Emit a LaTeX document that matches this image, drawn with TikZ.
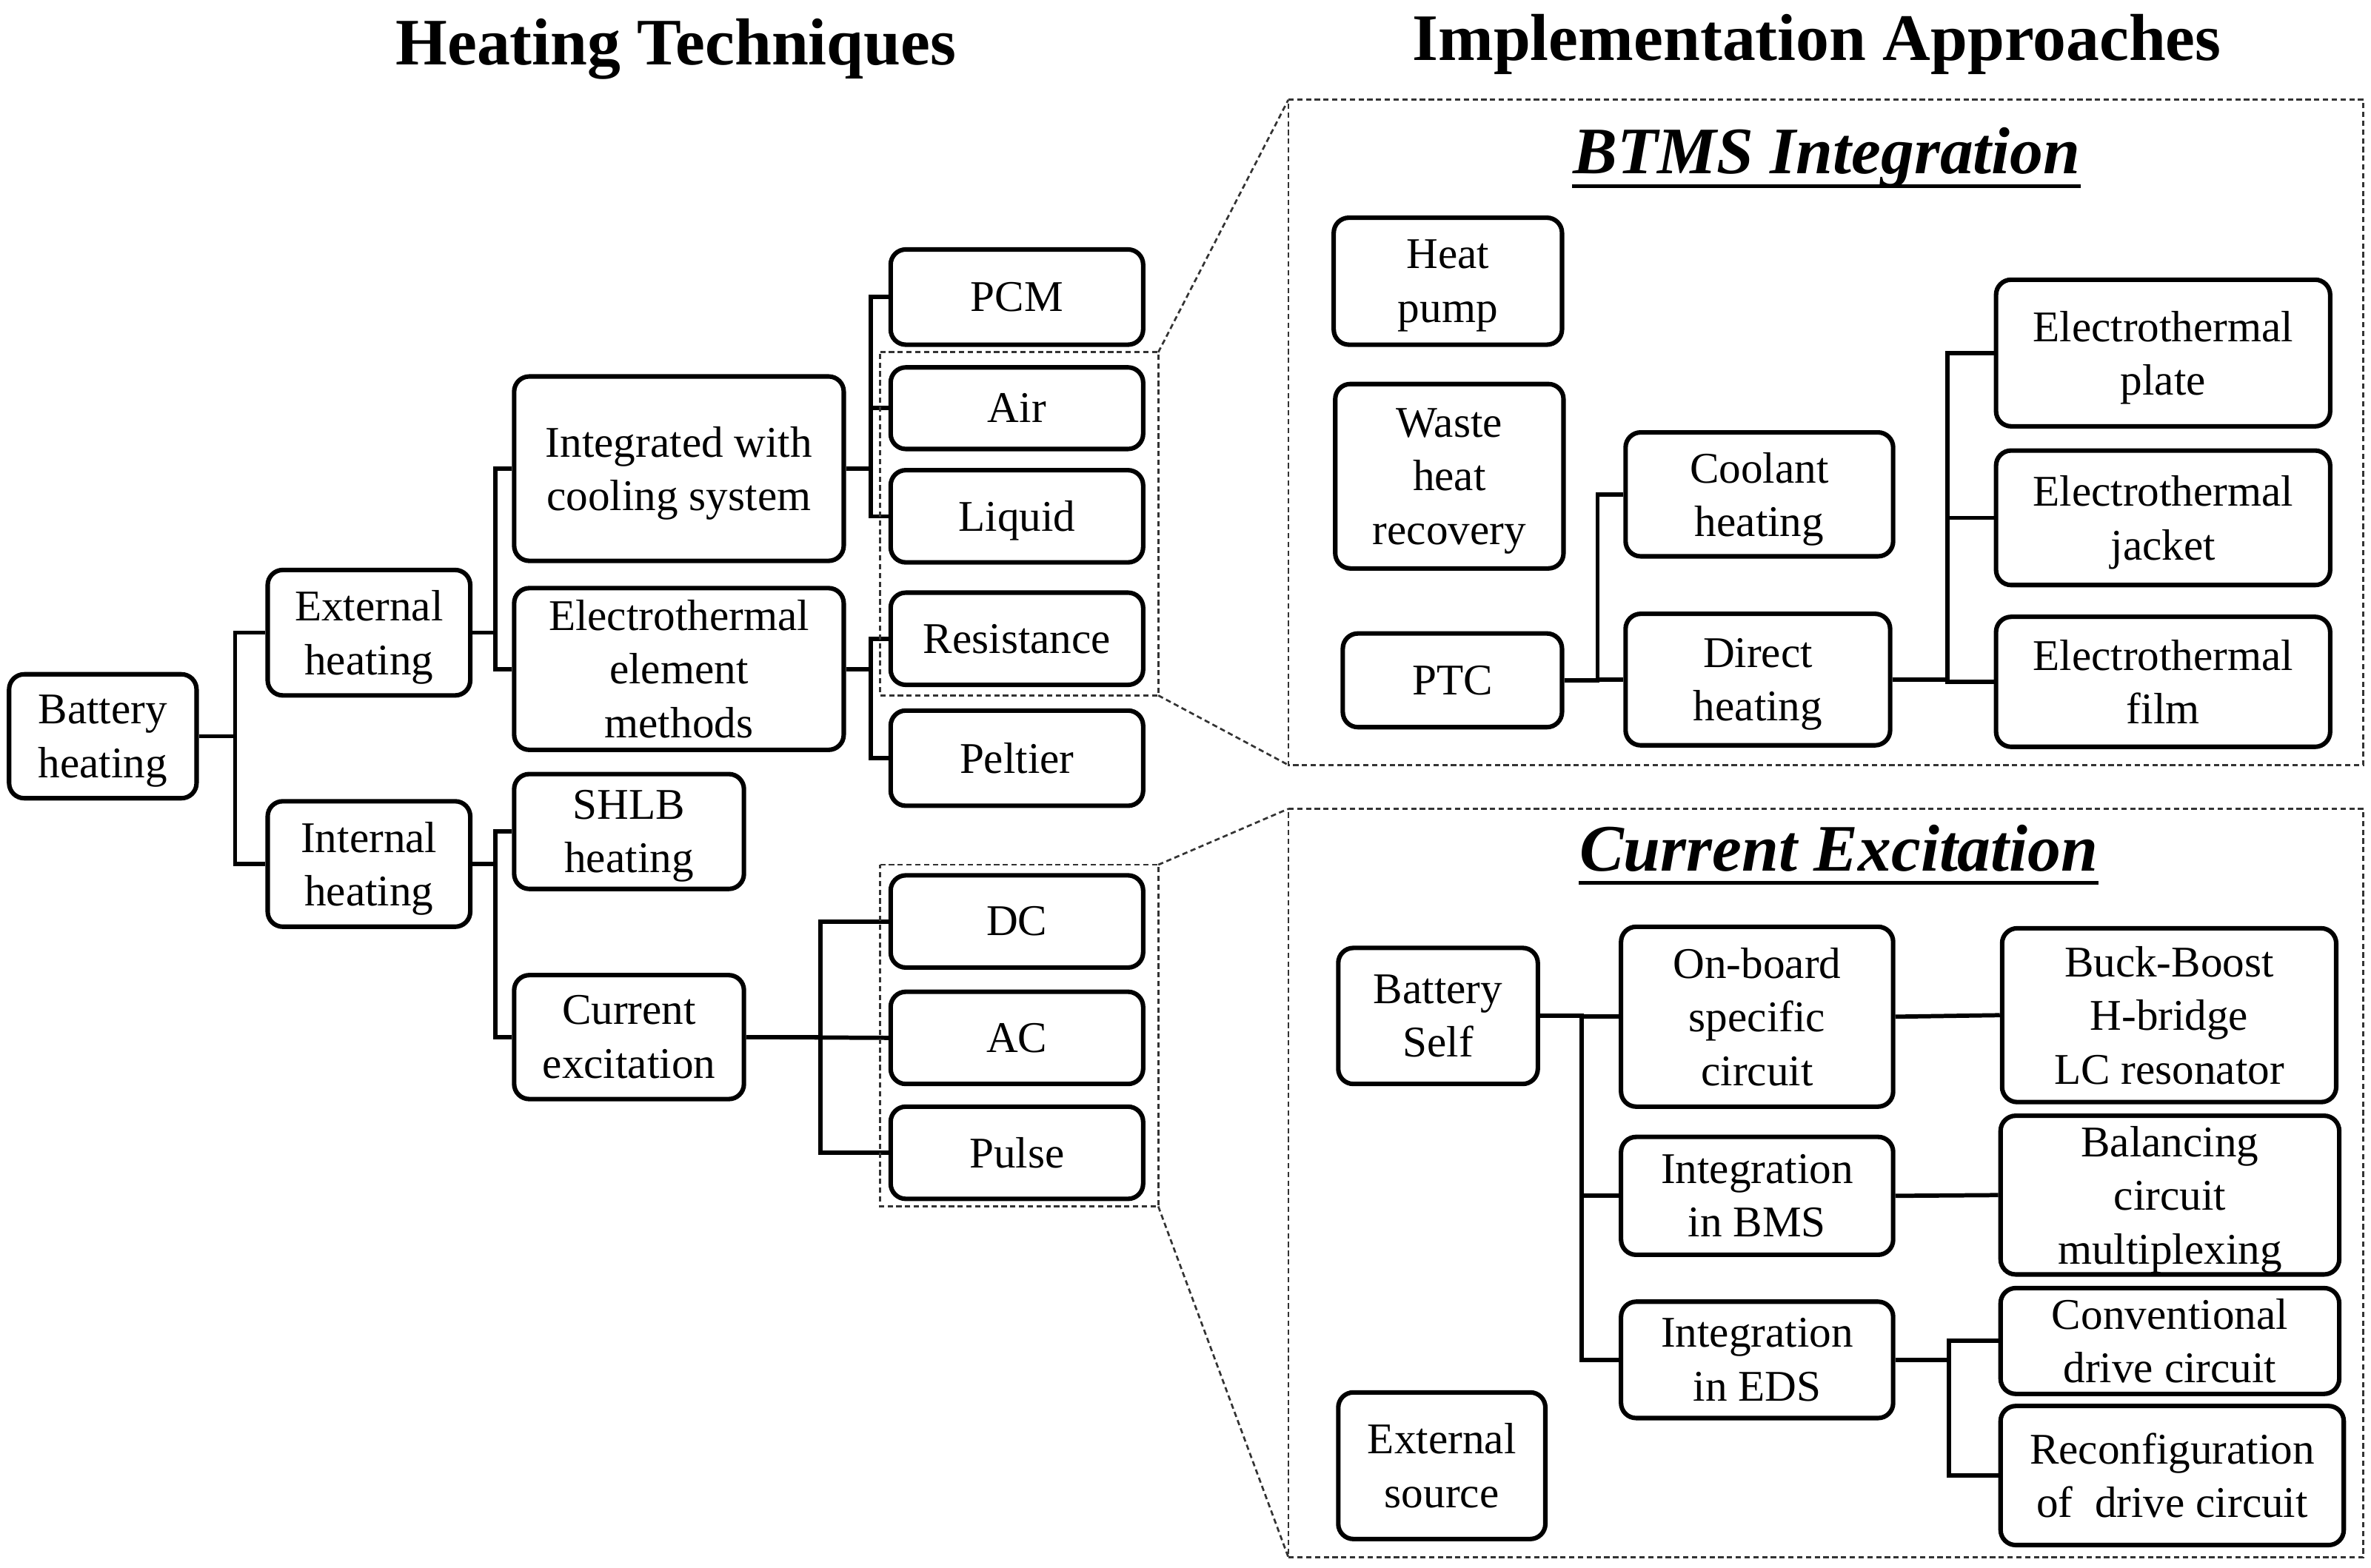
\documentclass[tikz,border=0pt]{standalone}
\usepackage{fontspec}
\setmainfont{Liberation Serif}
\newcommand\nd[1]{\raisebox{0pt}[\height][0pt]{#1}}
\definecolor{dashgray}{gray}{0.2}
\begin{document}
\begin{tikzpicture}[x=0.02cm,y=-0.02cm,
  box/.style={draw, line width=1.7pt, rounded corners=0.2cm, align=center, inner sep=0pt, font=\fontsize{16.5}{20.2}\selectfont},
  conn/.style={line width=1.6pt},
  dsh/.style={line width=0.75pt, draw=dashgray, dash pattern=on 2pt off 1.3pt},
  ttl/.style={font=\fontsize{25}{30}\selectfont\bfseries, inner sep=0pt, anchor=base},
  sttl/.style={font=\fontsize{25}{30}\selectfont\bfseries\itshape, inner sep=0pt, anchor=base},
  uline/.style={line width=1.3pt}]
\useasboundingbox (0,0) rectangle (1568,1037);

% titles
\node[ttl] (t1) at (447,43) {Heating Techniques};
\node[ttl] (t2) at (1201.5,40) {Implementation Approaches};

% left tree
\node[box, minimum width=2.48cm, minimum height=1.64cm] (bh) at (68,487) {Battery\\\nd{heating}};
\node[box, minimum width=2.68cm, minimum height=1.66cm] (ext) at (244,418.5) {External\\\nd{heating}};
\node[box, minimum width=2.68cm, minimum height=1.66cm] (int) at (244,571.5) {Internal\\\nd{heating}};
\node[box, minimum width=4.36cm, minimum height=2.44cm] (icool) at (449,310) {Integrated with\\\nd{cooling system}};
\node[box, minimum width=4.36cm, minimum height=2.14cm] (etm) at (449,442.5) {Electrothermal\\element\\methods};
\node[box, minimum width=3.04cm, minimum height=1.52cm] (shlb) at (416,550) {SHLB\\\nd{heating}};
\node[box, minimum width=3.04cm, minimum height=1.64cm] (cex) at (416,686) {Current\\excitation};
\node[box, minimum width=3.34cm, minimum height=1.26cm] (pcm) at (672.5,196.5) {PCM};
\node[box, minimum width=3.34cm, minimum height=1.08cm] (air) at (672.5,270) {Air};
\node[box, minimum width=3.34cm, minimum height=1.22cm] (liq) at (672.5,341.5) {\nd{Liquid}};
\node[box, minimum width=3.34cm, minimum height=1.22cm] (res) at (672.5,422.5) {Resistance};
\node[box, minimum width=3.34cm, minimum height=1.26cm] (pel) at (672.5,501.5) {Peltier};
\node[box, minimum width=3.34cm, minimum height=1.22cm] (dc) at (672.5,609.5) {DC};
\node[box, minimum width=3.34cm, minimum height=1.22cm] (ac) at (672.5,686.5) {AC};
\node[box, minimum width=3.34cm, minimum height=1.22cm] (pulse) at (672.5,762.5) {Pulse};

\draw[conn] (bh.east) -- ++(24,0) coordinate (j1) |- (ext.west);
\draw[conn] (j1) |- (int.west);
\draw[conn] (ext.east) -- ++(15,0) coordinate (j2) |- (icool.west);
\draw[conn] (j2) |- (etm.west);
\draw[conn] (int.east) -- ++(15,0) coordinate (j3) |- (shlb.west);
\draw[conn] (j3) |- (cex.west);
\draw[conn] (icool.east) -- ++(16.5,0) coordinate (j4) |- (pcm.west);
\draw[conn] (j4) |- (air.west);
\draw[conn] (j4) |- (liq.west);
\draw[conn] (etm.east) -- ++(16.5,0) coordinate (j5) |- (res.west);
\draw[conn] (j5) |- (pel.west);
\draw[conn] (cex.east) -- ++(49,0) coordinate (j6) |- (dc.west);
\draw[conn] (j6) |- (pulse.west);
\draw[conn] (cex.east) -- (ac.west);

% dashed frames
\coordinate (s1a) at (582,233); \coordinate (s1b) at (766,233);
\coordinate (s1c) at (766,460); \coordinate (s1d) at (582,460);
\coordinate (s2a) at (582,572); \coordinate (s2b) at (766,572);
\coordinate (s2c) at (766,798); \coordinate (s2d) at (582,798);
\coordinate (b1a) at (852,66); \coordinate (b1b) at (1563,66);
\coordinate (b1c) at (1563,506); \coordinate (b1d) at (852,506);
\coordinate (b2a) at (852,535); \coordinate (b2b) at (1563,535);
\coordinate (b2c) at (1563,1030); \coordinate (b2d) at (852,1030);
\draw[dsh] (s1a) -- (s1b) -- (s1c) -- (s1d) -- cycle;
\draw[dsh] (s2a) -- (s2b) -- (s2c) -- (s2d) -- cycle;
\draw[dsh] (b1a) -- (b1b) -- (b1c) -- (b1d) -- cycle;
\draw[dsh] (b2a) -- (b2b) -- (b2c) -- (b2d) -- cycle;
\draw[dsh] (s1b) -- (b1a);
\draw[dsh] (s1c) -- (b1d);
\draw[dsh] (s2b) -- (b2a);
\draw[dsh] (s2c) -- (b2d);

% BTMS Integration
\node[sttl] (btms) at (1208,115) {BTMS Integration};
\draw[uline] ([yshift=-0.16cm]btms.base west) -- ([yshift=-0.16cm]btms.base east);
\node[box, minimum width=3.02cm, minimum height=1.68cm] (hp) at (957.5,186) {Heat\\\nd{pump}};
\node[box, minimum width=3.02cm, minimum height=2.44cm] (whr) at (958.5,315) {Waste\\heat\\\nd{recovery}};
\node[box, minimum width=2.90cm, minimum height=1.24cm] (ptc) at (960.5,450) {PTC};
\node[box, minimum width=3.54cm, minimum height=1.64cm] (cool) at (1163.5,327) {Coolant\\\nd{heating}};
\node[box, minimum width=3.50cm, minimum height=1.74cm] (dir) at (1162.5,449.5) {Direct\\\nd{heating}};
\node[box, minimum width=4.42cm, minimum height=1.94cm] (ep) at (1430.5,233.5) {Electrothermal\\\nd{plate}};
\node[box, minimum width=4.42cm, minimum height=1.78cm] (ej) at (1430.5,342.5) {Electrothermal\\\nd{jacket}};
\node[box, minimum width=4.42cm, minimum height=1.72cm] (ef) at (1430.5,451) {Electrothermal\\film};
\draw[conn] (ptc.east) -- ++(22,0) coordinate (j7) |- (cool.west);
\draw[conn] (j7) |- (dir.west);
\draw[conn] (dir.east) -- ++(36.5,0) coordinate (j8) |- (ep.west);
\draw[conn] (j8) |- (ej.west);
\draw[conn] (j8) |- (ef.west);

% Current Excitation
\node[sttl] (cext) at (1216,576) {Current Excitation};
\draw[uline] ([yshift=-0.16cm]cext.base west) -- ([yshift=-0.16cm]cext.base east);
\node[box, minimum width=2.64cm, minimum height=1.80cm] (bs) at (951,672) {Battery\\Self};
\node[box, minimum width=3.60cm, minimum height=2.38cm] (ob) at (1162,672.5) {On-board\\specific\\circuit};
\node[box, minimum width=4.42cm, minimum height=2.30cm] (bb) at (1434.5,671.5) {Buck-Boost\\H-bridge\\LC resonator};
\node[box, minimum width=3.60cm, minimum height=1.56cm] (bms) at (1162,791) {Integration\\in BMS};
\node[box, minimum width=4.48cm, minimum height=2.10cm] (bal) at (1435,790.5) {Balancing\\circuit\\\nd{multiplexing}};
\node[box, minimum width=3.60cm, minimum height=1.54cm] (eds) at (1162,899.5) {Integration\\in EDS};
\node[box, minimum width=4.48cm, minimum height=1.40cm] (conv) at (1435,887) {Conventional\\drive circuit};
\node[box, minimum width=4.54cm, minimum height=1.84cm] (rec) at (1436.5,976) {Reconfiguration\\of~ drive circuit};
\node[box, minimum width=2.74cm, minimum height=1.94cm] (es) at (953.5,969.5) {External\\source};
\draw[conn] (bs.east) -- ++(27.5,0) coordinate (j9) |- (ob.west);
\draw[conn] (j9) |- (bms.west);
\draw[conn] (j9) |- (eds.west);
\draw[conn] (ob.east) -- (bb.west);
\draw[conn] (bms.east) -- (bal.west);
\draw[conn] (eds.east) -- ++(35.5,0) coordinate (j10) |- (conv.west);
\draw[conn] (j10) |- (rec.west);
\end{tikzpicture}
\end{document}
